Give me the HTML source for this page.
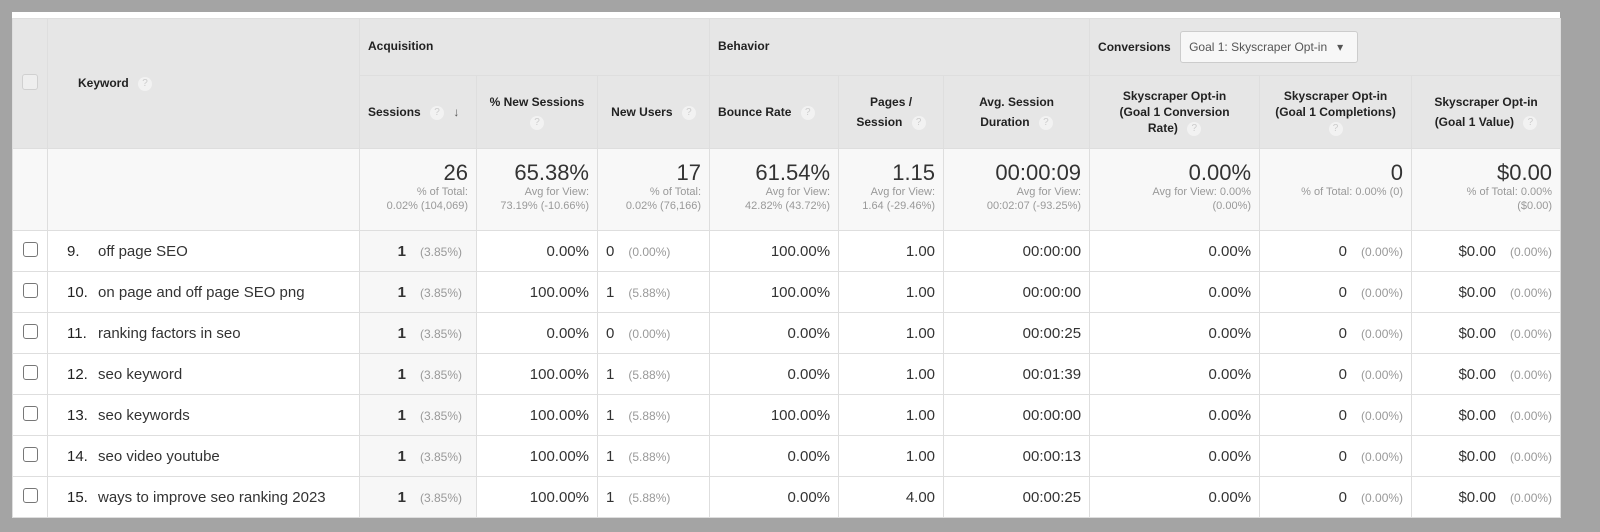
<!DOCTYPE html>
<html><head><style>
body{margin:0;width:1600px;height:532px;background:#a4a4a4;font-family:"Liberation Sans",Arial,sans-serif;overflow:hidden}
#p{position:absolute;left:12px;top:12px;width:1548px;height:506px;background:#fff}
table{position:absolute;left:12px;top:18px;border-collapse:collapse;table-layout:fixed;width:1548px}
td,th{border:1px solid #dedede;padding:0 8px;box-sizing:border-box;overflow:hidden;white-space:nowrap}
th{background:#e6e6e6;font-size:12px;color:#222;font-weight:bold}
.g1 th{height:57px;text-align:left;vertical-align:middle}
.g2 th{height:73px;text-align:center;line-height:20px}
.q{display:inline-block;width:14px;height:14px;border-radius:50%;background:#f2f2f2;color:#ccc;font-size:10px;line-height:14px;text-align:center;font-weight:normal;margin-left:6px;vertical-align:middle}
.sum td{height:82px;background:#f8f8f8;text-align:right;vertical-align:top;padding-top:11px;color:#555}
.big{font-size:22px;color:#333;line-height:25px}
.sm{font-size:11px;color:#999;line-height:14px}
.r td{height:41px;font-size:15px;color:#333;text-align:right}
.r td.s{background:#f7f7f7}
.pc{font-size:12px;color:#999;margin-left:14px;display:inline-block;width:48px;text-align:left}
.rp .pc{width:auto}
.cb{display:inline-block;width:13px;height:13px;border:1px solid #777;border-radius:3px}
.kw{text-align:left!important;color:#444}
.kw b{font-weight:normal;color:#222;display:inline-block;width:31px;padding-left:11px}
.dd{display:inline-block;border:1px solid #ccc;background:#f7f7f7;border-radius:3px;font-weight:normal;color:#555;padding:8px 8px;margin-left:6px;width:160px}
</style></head><body>
<div id="p"></div>
<table>
<colgroup><col style="width:35px"><col style="width:312px"><col style="width:117px"><col style="width:121px"><col style="width:112px"><col style="width:129px"><col style="width:105px"><col style="width:146px"><col style="width:170px"><col style="width:152px"><col style="width:149px"></colgroup>
<tr class="g1"><th rowspan="2" style="text-align:center"><span class="cb" style="border-color:#d0d0d0;background:#eee;width:14px;height:14px"></span></th><th rowspan="2" style="padding-left:30px">Keyword <span class="q">?</span></th><th colspan="3" style="vertical-align:top;padding-top:20px">Acquisition</th><th colspan="3" style="vertical-align:top;padding-top:20px">Behavior</th><th colspan="3">Conversions <span class="dd">Goal 1: Skyscraper Opt-in &nbsp;&nbsp;▾</span></th></tr>
<tr class="g2"><th style="text-align:left">Sessions <span class="q">?</span> <span style="margin-left:6px;color:#555">↓</span></th><th style="line-height:20px">% New Sessions<br><span class="q" style="margin:0">?</span></th><th>New Users <span class="q">?</span></th><th style="text-align:left">Bounce Rate <span class="q">?</span></th><th>Pages /<br>Session <span class="q">?</span></th><th>Avg. Session<br>Duration <span class="q">?</span></th><th style="line-height:16px">Skyscraper Opt-in<br>(Goal 1 Conversion<br>Rate) <span class="q">?</span></th><th style="line-height:16px">Skyscraper Opt-in<br>(Goal 1 Completions)<br><span class="q" style="margin:0">?</span></th><th>Skyscraper Opt-in<br>(Goal 1 Value) <span class="q">?</span></th></tr>
<tr class="sum"><td></td><td></td><td><div class="big">26</div><div class="sm">% of Total:<br>0.02% (104,069)</div></td><td><div class="big">65.38%</div><div class="sm">Avg for View:<br>73.19% (-10.66%)</div></td><td><div class="big">17</div><div class="sm">% of Total:<br>0.02% (76,166)</div></td><td><div class="big">61.54%</div><div class="sm">Avg for View:<br>42.82% (43.72%)</div></td><td><div class="big">1.15</div><div class="sm">Avg for View:<br>1.64 (-29.46%)</div></td><td><div class="big">00:00:09</div><div class="sm">Avg for View:<br>00:02:07 (-93.25%)</div></td><td><div class="big">0.00%</div><div class="sm">Avg for View: 0.00%<br>(0.00%)</div></td><td><div class="big">0</div><div class="sm">% of Total: 0.00% (0)</div></td><td><div class="big">$0.00</div><div class="sm">% of Total: 0.00%<br>($0.00)</div></td></tr>
<tr class="r"><td style="text-align:center"><span class="cb"></span></td><td class="kw"><b>9.</b>off page SEO</td><td class="s"><b>1</b><span class="pc">(3.85%)</span></td><td>0.00%</td><td style="text-align:left">0<span class="pc">(0.00%)</span></td><td>100.00%</td><td>1.00</td><td>00:00:00</td><td>0.00%</td><td class="rp">0<span class="pc">(0.00%)</span></td><td class="rp">$0.00<span class="pc">(0.00%)</span></td></tr>
<tr class="r"><td style="text-align:center"><span class="cb"></span></td><td class="kw"><b>10.</b>on page and off page SEO png</td><td class="s"><b>1</b><span class="pc">(3.85%)</span></td><td>100.00%</td><td style="text-align:left">1<span class="pc">(5.88%)</span></td><td>100.00%</td><td>1.00</td><td>00:00:00</td><td>0.00%</td><td class="rp">0<span class="pc">(0.00%)</span></td><td class="rp">$0.00<span class="pc">(0.00%)</span></td></tr>
<tr class="r"><td style="text-align:center"><span class="cb"></span></td><td class="kw"><b>11.</b>ranking factors in seo</td><td class="s"><b>1</b><span class="pc">(3.85%)</span></td><td>0.00%</td><td style="text-align:left">0<span class="pc">(0.00%)</span></td><td>0.00%</td><td>1.00</td><td>00:00:25</td><td>0.00%</td><td class="rp">0<span class="pc">(0.00%)</span></td><td class="rp">$0.00<span class="pc">(0.00%)</span></td></tr>
<tr class="r"><td style="text-align:center"><span class="cb"></span></td><td class="kw"><b>12.</b>seo keyword</td><td class="s"><b>1</b><span class="pc">(3.85%)</span></td><td>100.00%</td><td style="text-align:left">1<span class="pc">(5.88%)</span></td><td>0.00%</td><td>1.00</td><td>00:01:39</td><td>0.00%</td><td class="rp">0<span class="pc">(0.00%)</span></td><td class="rp">$0.00<span class="pc">(0.00%)</span></td></tr>
<tr class="r"><td style="text-align:center"><span class="cb"></span></td><td class="kw"><b>13.</b>seo keywords</td><td class="s"><b>1</b><span class="pc">(3.85%)</span></td><td>100.00%</td><td style="text-align:left">1<span class="pc">(5.88%)</span></td><td>100.00%</td><td>1.00</td><td>00:00:00</td><td>0.00%</td><td class="rp">0<span class="pc">(0.00%)</span></td><td class="rp">$0.00<span class="pc">(0.00%)</span></td></tr>
<tr class="r"><td style="text-align:center"><span class="cb"></span></td><td class="kw"><b>14.</b>seo video youtube</td><td class="s"><b>1</b><span class="pc">(3.85%)</span></td><td>100.00%</td><td style="text-align:left">1<span class="pc">(5.88%)</span></td><td>0.00%</td><td>1.00</td><td>00:00:13</td><td>0.00%</td><td class="rp">0<span class="pc">(0.00%)</span></td><td class="rp">$0.00<span class="pc">(0.00%)</span></td></tr>
<tr class="r"><td style="text-align:center"><span class="cb"></span></td><td class="kw"><b>15.</b>ways to improve seo ranking 2023</td><td class="s"><b>1</b><span class="pc">(3.85%)</span></td><td>100.00%</td><td style="text-align:left">1<span class="pc">(5.88%)</span></td><td>0.00%</td><td>4.00</td><td>00:00:25</td><td>0.00%</td><td class="rp">0<span class="pc">(0.00%)</span></td><td class="rp">$0.00<span class="pc">(0.00%)</span></td></tr>
</table>
</body></html>
